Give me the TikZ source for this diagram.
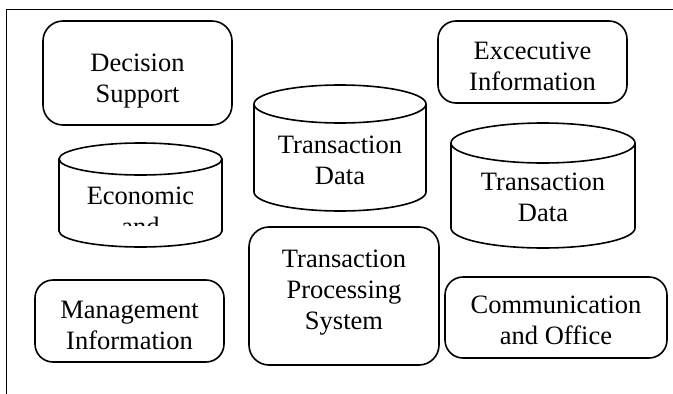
\documentclass[tikz,border=0pt]{standalone}
\usepackage{fontspec}
\setmainfont{Liberation Serif}
\begin{document}
\begin{tikzpicture}[x=1pt,y=-1pt,
  line width=1.6pt,
  rbox/.style={draw, rounded corners=18pt, inner sep=0pt},
  lbl/.style={align=center, inner sep=0pt, font=\fontsize{26.5}{31}\selectfont, anchor=base},
]
\useasboundingbox (0,0) rectangle (673,394);
% frame
\coordinate (fr1) at (673,9.5);
\coordinate (fr2) at (6.5,9.5);
\coordinate (fr3) at (6.5,394);
\draw (fr1) -- (fr2) -- (fr3);

% rounded boxes
\node[rbox, rounded corners=20pt, minimum width=189pt, minimum height=104pt] (ds) at (137.5,73) {};
\node[lbl] (dsl) at (137.5,102) {Decision\\Support};

\node[rbox, minimum width=189pt, minimum height=82pt] (ei) at (532.5,62) {};
\node[lbl] (eil) at (532.5,90) {Excecutive\\Information};

\node[rbox, minimum width=189pt, minimum height=82pt] (mi) at (129.5,321) {};
\node[lbl] (mil) at (129.5,349) {Management\\Information};

\node[rbox, rounded corners=20pt, minimum width=190pt, minimum height=138pt] (tps) at (344,296) {};
\node[lbl] (tpsl) at (344,329) {Transaction\\Processing\\System};

\node[rbox, minimum width=222pt, minimum height=81pt] (co) at (556,317.5) {};
\node[lbl] (col) at (556,344) {Communication\\and Office};

% cylinders
\newcommand{\mycyl}[5]{% cx, rx, ytop, ybot, ry
  \draw (#1-#2,#3) -- (#1-#2,#4) arc[start angle=180,end angle=0,x radius=#2,y radius=#5] -- (#1+#2,#3);
  \draw (#1,#3) ellipse[x radius=#2,y radius=#5];
}
\mycyl{340}{86}{104}{192}{19}
\node[lbl] (td1) at (340,184) {Transaction\\Data};

\mycyl{543}{92}{143}{228}{20}
\node[lbl] (td2) at (543,221) {Transaction\\Data};

\mycyl{140.5}{81.5}{159}{231}{16}
\begin{scope}
  \clip (60,176) rectangle (221,225);
  \node[lbl] (ec) at (140.5,235) {Economic\\and};
\end{scope}
\end{tikzpicture}
\end{document}
